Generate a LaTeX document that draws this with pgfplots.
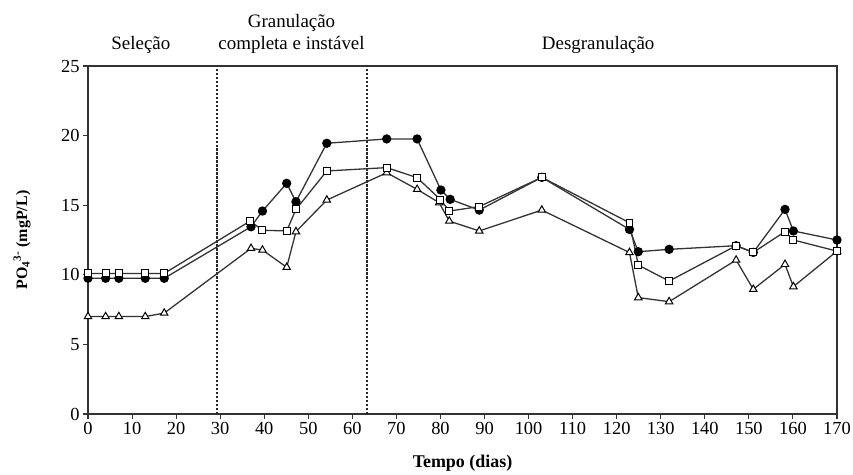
\documentclass[border=0pt]{standalone}
\usepackage{pgfplots}
\pgfplotsset{compat=1.18}
\usepackage{fontspec}
\setmainfont{Liberation Serif}
\begin{document}
\begin{tikzpicture}
\begin{axis}[
  width=749bp, height=348bp, scale only axis,
  xmin=0, xmax=170, ymin=0, ymax=25,
  xtick={0,10,...,170}, ytick={0,5,...,25},
  tick align=outside, tick pos=left,
  major tick length=5bp,
  axis line style={black!80, line width=1.4pt},
  every tick/.style={black!80, line width=1.1pt},
  tick label style={font=\fontsize{18.5}{20}\selectfont},
  /pgf/number format/assume math mode=true,
  xlabel={\textbf{Tempo (dias)}},
  ylabel={\textbf{PO\textsubscript{4}\textsuperscript{3-} (mgP/L)}},
  xlabel style={font=\fontsize{18}{20}\selectfont, at={(axis description cs:0.5,-0.14)}, anchor=center},
  ylabel style={font=\fontsize{16}{18}\selectfont, at={(axis description cs:-0.088,0.5)}, anchor=center},
  clip=false,
]
\addplot[black!85, dash pattern=on 2.5pt off 1.5pt, line width=1.4pt] coordinates {(29.3,0) (29.3,25)};
\addplot[black!85, dash pattern=on 2.5pt off 1.5pt, line width=1.4pt] coordinates {(63.3,0) (63.3,25)};
% triangles
\addplot[black!80, line width=1.3pt, mark=triangle*, mark size=4.3pt, mark options={fill=white, draw=black, line width=1pt}] coordinates {
(0,7.0) (4,7.0) (7,7.0) (13,7.0) (17.3,7.25) (37,11.9) (39.6,11.78) (45.1,10.54) (47.2,13.1)
(54.2,15.37) (67.8,17.33) (74.7,16.14) (79.7,15.18) (82,13.86) (88.8,13.15) (103,14.65)
(122.9,11.6) (124.9,8.36) (131.9,8.07) (147.1,11.06) (151,8.96) (158.2,10.75) (160.1,9.15) (170,11.7)};
% circles
\addplot[black!80, line width=1.3pt, mark=*, mark size=4pt, mark options={fill=black, draw=black}] coordinates {
(0,9.75) (4,9.75) (7,9.75) (13,9.75) (17.3,9.75) (37,13.45) (39.6,14.58) (45.1,16.57) (47.2,15.25)
(54.2,19.45) (67.8,19.76) (74.7,19.76) (80.1,16.09) (82.2,15.42) (88.8,14.65) (103,17.0)
(122.9,13.26) (124.9,11.66) (131.9,11.83) (147.1,12.09) (151,11.61) (158.2,14.7) (160.1,13.15) (170,12.5)};
% squares
\addplot[black!80, line width=1.3pt, mark=square*, mark size=3.5pt, mark options={fill=white, draw=black, line width=1pt}] coordinates {
(0,10.1) (4,10.1) (7,10.1) (13,10.1) (17.3,10.1) (36.8,13.86) (39.6,13.2) (45.1,13.15) (47.2,14.7)
(54.2,17.46) (67.8,17.7) (74.7,16.98) (80,15.4) (82,14.58) (88.8,14.9) (103,17.0)
(122.9,13.74) (124.9,10.7) (131.9,9.55) (147.1,12.09) (151,11.61) (158.2,13.1) (160.1,12.5) (170,11.7)};
\node[font=\fontsize{19}{22}\selectfont, anchor=base] at (axis cs:12,26.2) {Seleção};
\node[font=\fontsize{19}{22}\selectfont, anchor=base, align=center] at (axis cs:46.2,26.2) {Granulação\\completa e instável};
\node[font=\fontsize{19}{22}\selectfont, anchor=base] at (axis cs:115.8,26.2) {Desgranulação};
\end{axis}
\pgfresetboundingbox
\path (-88bp,-61bp) rectangle (765bp,414bp);
\end{tikzpicture}
\end{document}
